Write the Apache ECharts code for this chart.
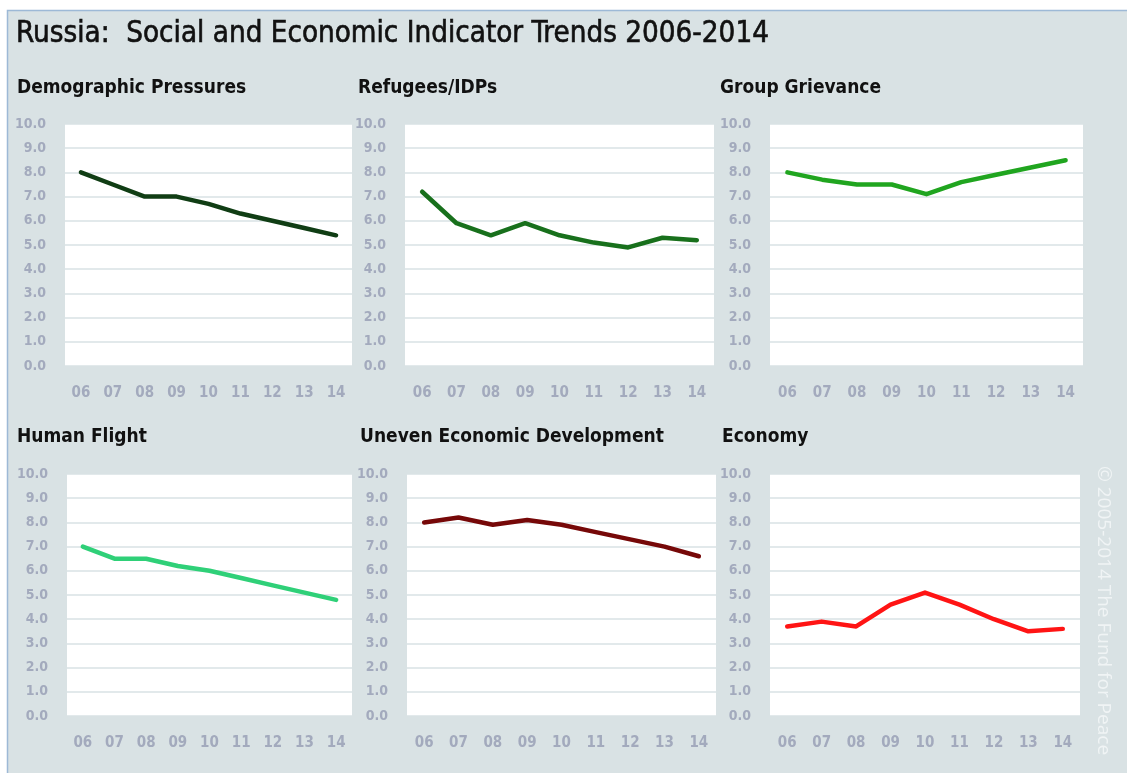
<!DOCTYPE html>
<html>
<head>
<meta charset="utf-8">
<title>Russia: Social and Economic Indicator Trends 2006-2014</title>
<script src="https://cdn.jsdelivr.net/npm/echarts@6/dist/echarts.min.js"></script>
<style>
  html, body { margin: 0; padding: 0; background: #ffffff; }
  #chart { width: 1127px; height: 773px; }
</style>
</head>
<body>
<div id="chart"></div>
<script>
// Year labels along each x axis
const years = ['06', '07', '08', '09', '10', '11', '12', '13', '14'];

// Indicator scores, 2006-2014
const demographicPressures = [8.0, 7.5, 7.0, 7.0, 6.7, 6.3, 6.0, 5.7, 5.4];
const refugeesIDPs         = [7.2, 5.9, 5.4, 5.9, 5.4, 5.1, 4.9, 5.3, 5.2];
const groupGrievance       = [8.0, 7.7, 7.5, 7.5, 7.1, 7.6, 7.9, 8.2, 8.5];
const humanFlight          = [7.0, 6.5, 6.5, 6.2, 6.0, 5.7, 5.4, 5.1, 4.8];
const unevenDevelopment    = [8.0, 8.2, 7.9, 8.1, 7.9, 7.6, 7.3, 7.0, 6.6];
const economy              = [3.7, 3.9, 3.7, 4.6, 5.1, 4.6, 4.0, 3.5, 3.6];

const panelTitles = ['Demographic Pressures', 'Refugees/IDPs', 'Group Grievance',
                     'Human Flight', 'Uneven Economic Development', 'Economy'];

const panels = [
  { data: demographicPressures, color: '#103d14', grid: { left: 65,  top: 124, width: 287, height: 242 }, title: [17, 79] },
  { data: refugeesIDPs,         color: '#18701c', grid: { left: 405, top: 124, width: 309, height: 242 }, title: [358, 79] },
  { data: groupGrievance,       color: '#20a51f', grid: { left: 770, top: 124, width: 313, height: 242 }, title: [720, 79] },
  { data: humanFlight,          color: '#2fd078', grid: { left: 67,  top: 474, width: 285, height: 242 }, title: [17, 428] },
  { data: unevenDevelopment,    color: '#760808', grid: { left: 407, top: 474, width: 309, height: 242 }, title: [360, 428] },
  { data: economy,              color: '#ff1414', grid: { left: 770, top: 474, width: 310, height: 242 }, title: [722, 428] }
];

const FONT = '"Liberation Sans Narrow", "DejaVu Sans Condensed", "Roboto", sans-serif';
const labelColor = '#a3aabd';
const bgColor = '#d9e2e4';

const chart = echarts.init(document.getElementById('chart'), null, { renderer: 'canvas' });

const option = {
  backgroundColor: '#ffffff',
  animation: false,
  title: [
    {
      text: 'Russia:  Social and Economic Indicator Trends 2006-2014',
      left: 16, top: 20, padding: 0,
      textStyle: {
        fontFamily: FONT, fontSize: 29.3, fontWeight: 'normal', color: '#111111',
        textBorderColor: '#111111', textBorderWidth: 0.6
      }
    }
  ].concat(panels.map((p, i) => ({
    text: panelTitles[i],
    left: p.title[0], top: p.title[1],
    padding: 0,
    textStyle: { fontFamily: FONT, fontSize: 19, fontWeight: 'bold', color: '#111111' }
  }))),
  graphic: [
    {
      type: 'rect', z: -10, silent: true,
      shape: { x: 7.5, y: 10.5, width: 1140, height: 790 },
      style: { fill: bgColor, stroke: '#9db9d6', lineWidth: 1.5 }
    },
    {
      type: 'text', silent: true,
      x: 1113, y: 466, rotation: -Math.PI / 2,
      style: {
        text: '\u00a9 2005-2014 The Fund for Peace',
        fontFamily: '"Open Sans", sans-serif', fontSize: 19,
        fill: '#f0f4f5', textAlign: 'left', textVerticalAlign: 'top'
      }
    }
  ],
  grid: panels.map(p => Object.assign({
    show: true, backgroundColor: '#ffffff', borderWidth: 0, containLabel: false
  }, p.grid)),
  xAxis: panels.map((p, i) => ({
    type: 'category', gridIndex: i, data: years, boundaryGap: true,
    axisLine: { show: false }, axisTick: { show: false }, splitLine: { show: false },
    axisLabel: { color: labelColor, fontFamily: FONT, fontSize: 15, fontWeight: 'bold', margin: 20 }
  })),
  yAxis: panels.map((p, i) => ({
    type: 'value', gridIndex: i, min: 0, max: 10, interval: 1,
    axisLine: { show: false }, axisTick: { show: false },
    splitLine: { show: true, lineStyle: { color: bgColor, width: 1.5 } },
    axisLabel: {
      color: labelColor, fontFamily: FONT, fontSize: 14, fontWeight: 'bold', margin: 19,
      formatter: v => v.toFixed(1)
    }
  })),
  series: panels.map((p, i) => ({
    type: 'line', xAxisIndex: i, yAxisIndex: i, data: p.data,
    symbol: 'none', smooth: false,
    lineStyle: { color: p.color, width: 4.5, cap: 'round', join: 'round' }
  }))
};

chart.setOption(option);
</script>
</body>
</html>
